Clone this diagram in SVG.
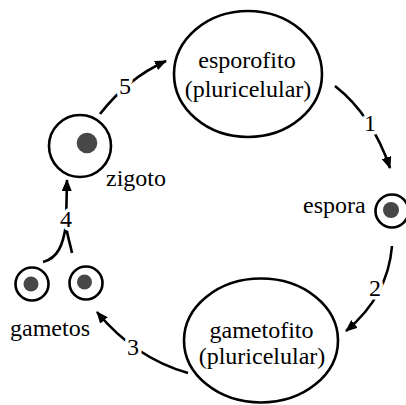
<svg xmlns="http://www.w3.org/2000/svg" width="406" height="405" viewBox="0 0 406 405">
<defs>
<marker id="ah" viewBox="0 0 12 10" refX="11" refY="5" markerWidth="12" markerHeight="10" markerUnits="userSpaceOnUse" orient="auto">
<path d="M0,0 L12,5 L0,10 Z" fill="#000"/>
</marker>
<style>
.shape{fill:#fff;stroke:#000;stroke-width:2.6}
.dot{fill:#474747}
text{font-family:"Liberation Serif","Times New Roman",serif;font-size:24px;fill:#000}
.c{text-anchor:middle}
.edge{fill:none;stroke:#000;stroke-width:2.6}
.lbl{text-anchor:middle;stroke:#fff;stroke-width:7;paint-order:stroke;stroke-linejoin:round}
</style>
</defs>
<rect width="406" height="405" fill="#fff"/>
<g id="connectors">
<path class="edge" d="M100,114 Q128,78 166,61" marker-end="url(#ah)"/>
<path class="edge" d="M335,86 Q372,115 390,168" marker-end="url(#ah)"/>
<path class="edge" d="M392,246 Q388,296 346,331" marker-end="url(#ah)"/>
<path class="edge" d="M188,373 Q135,358 97,312" marker-end="url(#ah)"/>
<path class="edge" d="M43,262 C58,258 63,245 66,225 L67,180" marker-end="url(#ah)"/>
<path class="edge" d="M72,253 C70,243 67,235 66,225"/>
<text class="lbl" x="125" y="94">5</text>
<text class="lbl" x="370" y="131">1</text>
<text class="lbl" x="375" y="296">2</text>
<text class="lbl" x="133" y="355">3</text>
<text class="lbl" x="66" y="227">4</text>
</g>
<g id="esporofito">
<ellipse class="shape" cx="248" cy="74" rx="74" ry="63"/>
<text class="c" x="247" y="68">esporofito</text>
<text class="c" x="248" y="97">(pluricelular)</text>
</g>
<g id="espora">
<circle class="shape" cx="392" cy="211" r="16.5"/>
<circle class="dot" cx="391" cy="210" r="8"/>
<text x="303" y="213">espora</text>
</g>
<g id="gametofito">
<ellipse class="shape" cx="261" cy="340.5" rx="77" ry="62"/>
<text class="c" x="261.5" y="337.5">gametofito</text>
<text class="c" x="262" y="364">(pluricelular)</text>
</g>
<g id="gametos">
<circle class="shape" cx="32" cy="284" r="16.5"/>
<circle class="dot" cx="31" cy="284" r="7.5"/>
<circle class="shape" cx="86" cy="283" r="16.5"/>
<circle class="dot" cx="84.5" cy="282" r="7.5"/>
<text x="10" y="336">gametos</text>
</g>
<g id="zigoto">
<circle class="shape" cx="80" cy="146" r="31"/>
<circle class="dot" cx="87" cy="143" r="10.3"/>
<text x="106" y="186">zigoto</text>
</g>
</svg>
